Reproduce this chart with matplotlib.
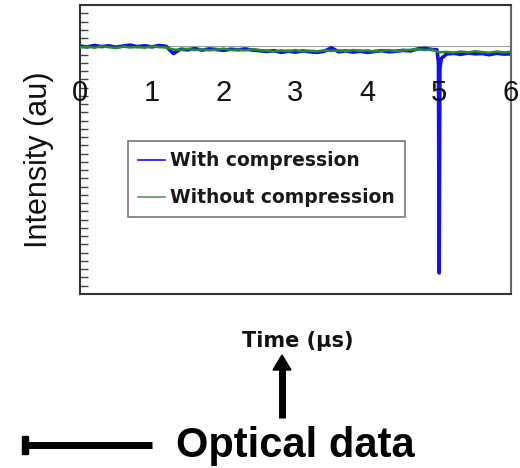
import matplotlib
matplotlib.use("Agg")
import matplotlib.pyplot as plt
import numpy as np
from matplotlib.lines import Line2D
from matplotlib.patches import Polygon, Rectangle

plt.rcParams['font.family'] = ['Liberation Sans', 'DejaVu Sans']

# ---- data ----
x_tick_values = [0, 1, 2, 3, 4, 5, 6]
x_tick_labels = ['0', '1', '2', '3', '4', '5', '6']

t_with = [0.0, 0.1, 0.2, 0.3, 0.4, 0.5, 0.6, 0.7, 0.8, 0.9, 1.0, 1.1, 1.2,
          1.3,
          1.4, 1.5, 1.6, 1.7, 1.8, 1.9, 2.0, 2.1, 2.2, 2.3, 2.4, 2.5,
          2.6, 2.7, 2.8, 2.9, 3.0, 3.1, 3.2, 3.3, 3.4,
          3.5,
          3.6, 3.7, 3.8, 3.9, 4.0, 4.1, 4.2, 4.3, 4.4, 4.5, 4.6,
          4.7, 4.8, 4.9, 4.97, 4.99,
          5.0,
          5.01, 5.03,
          5.1, 5.2, 5.3, 5.4, 5.5, 5.6, 5.7, 5.8, 5.9, 6.0]
i_with = [0.858, 0.855, 0.860, 0.856, 0.859, 0.854, 0.858, 0.861, 0.856, 0.859, 0.855, 0.860, 0.857,
          0.832,
          0.847, 0.845, 0.849, 0.844, 0.848, 0.846, 0.843, 0.847, 0.845, 0.848, 0.844, 0.842,
          0.839, 0.842, 0.836, 0.840, 0.837, 0.841, 0.838, 0.836, 0.840,
          0.852,
          0.838, 0.841, 0.837, 0.840, 0.836, 0.839, 0.842, 0.838, 0.840, 0.843, 0.841,
          0.848, 0.850, 0.846, 0.845, 0.800,
          0.073,
          0.780, 0.815,
          0.830, 0.833, 0.829, 0.834, 0.831, 0.832, 0.828, 0.833, 0.830, 0.831]

t_without = [0.0, 0.1, 0.2, 0.3, 0.4, 0.5, 0.6, 0.7, 0.8, 0.9, 1.0, 1.1, 1.2,
             1.3,
             1.4, 1.5, 1.6, 1.7, 1.8, 1.9, 2.0, 2.1, 2.2, 2.3, 2.4, 2.5,
             2.6, 2.7, 2.8, 2.9, 3.0, 3.1, 3.2, 3.3, 3.4,
             3.5,
             3.6, 3.7, 3.8, 3.9, 4.0, 4.1, 4.2, 4.3, 4.4, 4.5, 4.6,
             4.7, 4.8, 4.9,
             5.0,
             5.1, 5.2, 5.3, 5.4, 5.5, 5.6, 5.7, 5.8, 5.9, 6.0]
i_without = [0.853, 0.856, 0.852, 0.857, 0.854, 0.851, 0.856, 0.853, 0.855, 0.852, 0.857, 0.854, 0.853,
             0.846,
             0.845, 0.848, 0.844, 0.847, 0.843, 0.846, 0.849, 0.844, 0.846, 0.843, 0.847, 0.844,
             0.842, 0.839, 0.843, 0.840, 0.844, 0.839, 0.842, 0.840, 0.843,
             0.841,
             0.843, 0.840, 0.844, 0.841, 0.843, 0.839, 0.842, 0.844, 0.840, 0.843, 0.845,
             0.847, 0.844, 0.846,
             0.836,
             0.838, 0.835, 0.839, 0.836, 0.840, 0.837, 0.835, 0.839, 0.836, 0.838]

reference_level = 0.857

# ---- figure ----
fig = plt.figure(figsize=(5.2, 4.68), dpi=100)
ax = fig.add_axes([80/520, 1-294/468, 431/520, 289/468])

ax.axhline(reference_level, color='#a0a0a0', lw=0.8, zorder=1)
ax.plot(t_with, i_with, color='#1010f0', lw=2.6, label='With compression', zorder=2)
ax.plot(t_without, i_without, color='#2a8a2a', lw=1.8, label='Without compression', zorder=3)

ax.set_xlim(0, 6)
ax.set_ylim(0, 1)

# x labels drawn inside the axes
ax.set_xticks([])
for v, lab in zip(x_tick_values, x_tick_labels):
    ax.text(v, 0.695, lab, transform=ax.get_xaxis_transform(), ha='center', va='center',
            fontsize=21, color='#111111', zorder=5)

ax.set_yticks(np.arange(1, 35) / 35)
ax.set_yticklabels([])
ax.tick_params(axis='y', direction='in', length=6, width=1, color='#444444', left=True, right=False)

for s in ax.spines.values():
    s.set_linewidth(1.5)
    s.set_color('#333333')
ax.spines['right'].set_color('#666666')

leg = ax.legend(loc='upper left', bbox_to_anchor=((128-80)/431, (294-141)/289),
                prop={'family': 'DejaVu Sans', 'weight': 'bold', 'size': 13.5},
                frameon=True, fancybox=False, handlelength=1.4,
                handletextpad=0.3, borderpad=0.55, labelspacing=0.95, borderaxespad=0)
leg.get_frame().set_edgecolor('#555555')
leg.get_frame().set_linewidth(1.2)
for h in leg.get_lines():
    h.set_linewidth(1.2)
leg.get_lines()[1].set_color('#5a9a5a')
for txt in leg.get_texts():
    txt.set_color('#1a1a1a')

fig.text(39/520, 1-160/468, 'Intensity (au)', rotation=90, ha='center', va='center',
         fontsize=22, color='#111111')
fig.text(298/520, 1-341/468, 'Time (\u03bcs)', ha='center', va='center',
         fontsize=15, fontweight='bold', family='DejaVu Sans', color='#111111')

# up arrow
fig.add_artist(Line2D([282/520, 282/520], [1-418/468, 1-368/468], color='black', lw=5,
                      solid_capstyle='butt', transform=fig.transFigure))
fig.add_artist(Polygon([[273/520, 1-370/468], [291/520, 1-370/468], [282/520, 1-355/468]],
                       closed=True, color='black', transform=fig.transFigure))

# left arrow (clipped head)
fig.add_artist(Line2D([28/520, 152/520], [1-445/468, 1-445/468], color='black', lw=5,
                      solid_capstyle='butt', transform=fig.transFigure))
fig.add_artist(Rectangle((22/520, 1-454/468), 6/520, 18/468, color='black',
                         transform=fig.transFigure))

fig.text(295/520, 1-446/468, 'Optical data', ha='center', va='center',
         fontsize=30, fontweight='bold', color='black')

fig.savefig('out.png', dpi=100)
